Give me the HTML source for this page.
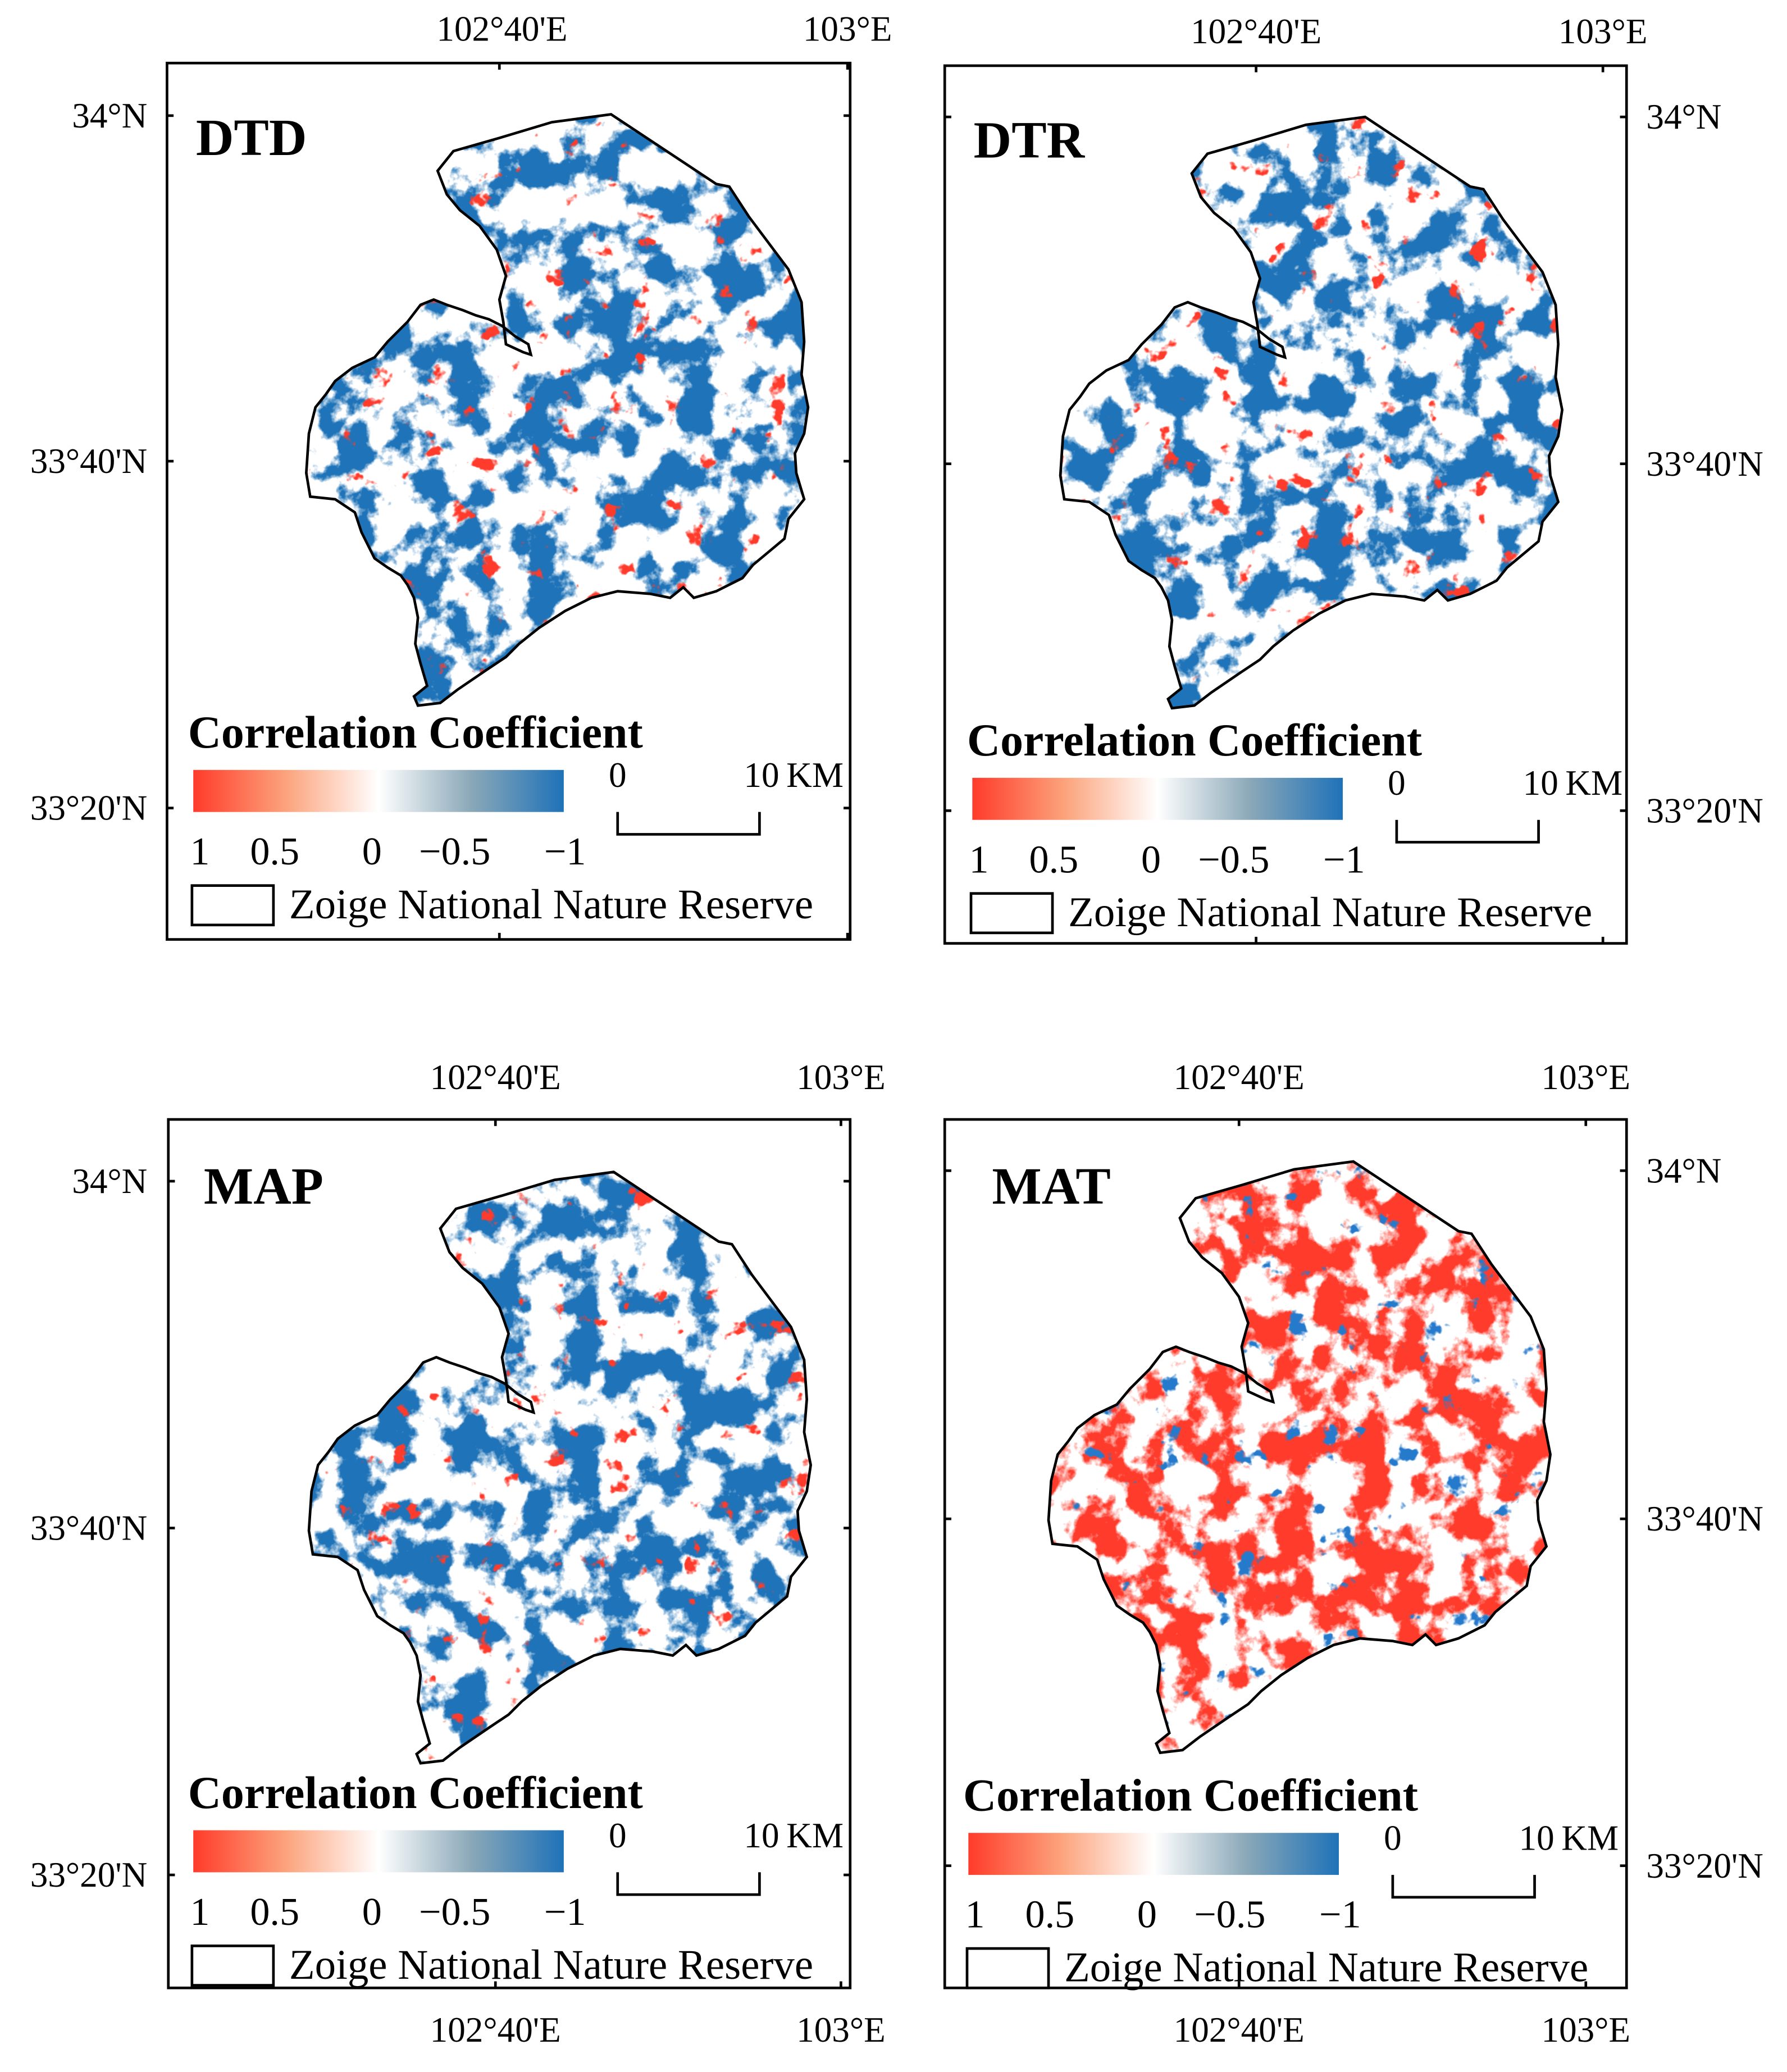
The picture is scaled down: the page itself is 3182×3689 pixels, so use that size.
<!DOCTYPE html>
<html><head><meta charset="utf-8"><style>
html,body{margin:0;padding:0;background:#fff;}
svg{display:block;}
text{font-family:"Liberation Serif",serif;fill:#000;}
</style></head><body>
<svg id="fig" xmlns="http://www.w3.org/2000/svg" width="3182" height="3689" viewBox="0 0 1360 1577">
<defs>
<linearGradient id="cbar" x1="0" x2="1" y1="0" y2="0">
<stop offset="0" stop-color="#ff3b2a"/><stop offset="0.25" stop-color="#fca37c"/><stop offset="0.5" stop-color="#ffffff"/><stop offset="0.75" stop-color="#8aa8b8"/><stop offset="1" stop-color="#1f72b8"/>
</linearGradient>
<filter id="fBlue" color-interpolation-filters="sRGB" filterUnits="userSpaceOnUse" x="0" y="0" width="1360" height="1577"><feTurbulence type="fractalNoise" baseFrequency="0.035" numOctaves="5" seed="4"/><feColorMatrix type="matrix" values="0 0 0 0 0.12  0 0 0 0 0.45  0 0 0 0 0.72  10 0 0 0 -4.75"/></filter>
<filter id="fRedS" color-interpolation-filters="sRGB" filterUnits="userSpaceOnUse" x="0" y="0" width="1360" height="1577"><feTurbulence type="fractalNoise" baseFrequency="0.05" numOctaves="4" seed="11"/><feColorMatrix type="matrix" values="0 0 0 0 1  0 0 0 0 0.23  0 0 0 0 0.17  14 0 0 0 -9.8"/></filter>
<filter id="fRed" color-interpolation-filters="sRGB" filterUnits="userSpaceOnUse" x="0" y="0" width="1360" height="1577"><feTurbulence type="fractalNoise" baseFrequency="0.035" numOctaves="5" seed="4"/><feColorMatrix type="matrix" values="0 0 0 0 1  0 0 0 0 0.23  0 0 0 0 0.17  10 0 0 0 -4.6"/></filter>
<filter id="fBlueS" color-interpolation-filters="sRGB" filterUnits="userSpaceOnUse" x="0" y="0" width="1360" height="1577"><feTurbulence type="fractalNoise" baseFrequency="0.05" numOctaves="4" seed="11"/><feColorMatrix type="matrix" values="0 0 0 0 0.15  0 0 0 0 0.48  0 0 0 0 0.8  14 0 0 0 -9.8"/></filter>
</defs>
</svg>
<script>
const NS="http://www.w3.org/2000/svg";
const svg=document.getElementById('fig');
const panelNames=["DTD","DTR","MAP","MAT"];
const xTickLabels=["102°40'E","103°E"];
const yTickLabels=["34°N","33°40'N","33°20'N"];
const legendTicks=["1","0.5","0","\u22120.5","\u22121"];
const shape=[[333,130],[345,115],[380,105],[420,93],[465,87],[545,140],[555,142],[570,165],[600,205],[610,230],[612,260],[610,285],[615,310],[612,330],[605,345],[606,360],[612,380],[600,395],[597,410],[585,420],[573,430],[565,440],[545,450],[528,455],[520,447],[510,455],[495,452],[470,450],[450,455],[430,465],[410,478],[395,490],[385,500],[370,510],[348,525],[335,535],[318,537],[315,530],[325,522],[320,505],[316,490],[318,470],[315,455],[310,445],[305,438],[295,432],[285,425],[275,405],[270,390],[255,380],[236,378],[233,360],[235,330],[240,310],[248,300],[255,290],[268,280],[285,272],[295,260],[310,245],[320,232],[330,228],[340,232],[352,236],[362,240],[372,243],[382,248],[392,256],[402,262],[404,270],[398,268],[385,262],[383,245],[380,228],[385,210],[378,190],[365,172],[350,160],[340,148]];
const panels=[
 {name:0,fx:127,fy:48,fw:520,fh:667,dx:0,dy:0,xt:[380,645],yt:[88,351,615],ylab:"left",xlabTop:[382,645],labTopY:31,bottom:false,cbx:147,cby:586,mode:"blue"},
 {name:1,fx:719,fy:50,fw:519,fh:668,dx:574,dy:2,xt:[956,1220],yt:[89,353,617],ylab:"right",xlabTop:[956,1220],labTopY:33,bottom:false,cbx:740,cby:592,mode:"blue"},
 {name:2,fx:128,fy:852,fw:519,fh:661,dx:2,dy:805,xt:[377,640],yt:[899,1163,1427],ylab:"left",xlabTop:[377,640],labTopY:829,bottom:true,cbx:147,cby:1393,mode:"blue"},
 {name:3,fx:719,fy:852,fw:519,fh:661,dx:565,dy:797,xt:[943,1207],yt:[891,1156,1420],ylab:"right",xlabTop:[943,1207],labTopY:829,bottom:true,cbx:737,cby:1395,mode:"red"}
];
function el(tag,attrs,parent){const e=document.createElementNS(NS,tag);for(const k in attrs)e.setAttribute(k,attrs[k]);(parent||svg).appendChild(e);return e;}
const defs=svg.querySelector('defs');
panels.forEach((p,i)=>{
 const g=el('g',{});
 
 
 const pts=shape.map(q=>(q[0]+p.dx)+','+(q[1]+p.dy)).join(' ');
 const cp=el('clipPath',{id:'clip'+i},defs);
 el('polygon',{points:pts},cp);
 const mg=el('g',{'clip-path':'url(#clip'+i+')'},g);
 
 
 el('rect',{x:p.fx,y:p.fy,width:p.fw,height:p.fh,fill:'#fff'},mg);
 el('rect',{x:p.fx,y:p.fy,width:p.fw,height:p.fh,fill:'#000',filter:p.mode==='blue'?'url(#fBlue)':'url(#fRed)'},mg);
 el('rect',{x:p.fx,y:p.fy,width:p.fw,height:p.fh,fill:'#000',filter:p.mode==='blue'?'url(#fRedS)':'url(#fBlueS)'},mg);
 const ol=el('polygon',{points:pts,fill:'none',stroke:'#000','stroke-width':2},g);
 
 
 const fr=el('rect',{x:p.fx,y:p.fy,width:p.fw,height:p.fh,fill:'none',stroke:'#000','stroke-width':2},g);
 
 
 p.xt.forEach((x,j)=>{
  el('line',{x1:x,x2:x,y1:p.fy,y2:p.fy+5,stroke:'#000','stroke-width':2},g);
  el('line',{x1:x,x2:x,y1:p.fy+p.fh,y2:p.fy+p.fh-5,stroke:'#000','stroke-width':2},g);
  const t=el('text',{x:p.xlabTop[j],y:p.labTopY,'text-anchor':'middle','font-size':27},g);
  t.textContent=xTickLabels[j];
  
  
  if(p.bottom){const b=el('text',{x:p.xlabTop[j],y:1554,'text-anchor':'middle','font-size':27},g);b.textContent=xTickLabels[j];
   
   }
 });
 p.yt.forEach((y,j)=>{
  el('line',{x1:p.fx,x2:p.fx+5,y1:y,y2:y,stroke:'#000','stroke-width':2},g);
  el('line',{x1:p.fx+p.fw,x2:p.fx+p.fw-5,y1:y,y2:y,stroke:'#000','stroke-width':2},g);
  const t=p.ylab==='left'?el('text',{x:112,y:y+9,'text-anchor':'end','font-size':27},g):el('text',{x:1253,y:y+9,'text-anchor':'start','font-size':27},g);
  t.textContent=yTickLabels[j];
  
  
 });
 const tt=el('text',{x:p.fx+22,y:p.fy+70,'font-size':40,'font-weight':'bold'},g);
 if(p.name>=2) tt.setAttribute('x',p.fx+(p.name===2?27:36));
 if(p.name>=2) tt.setAttribute('y',p.fy+64);
 tt.textContent=panelNames[p.name];
 
 
 const cx=p.cbx,cy=p.cby;
 const ct=el('text',{x:cx-4,y:cy-17,'font-size':35,'font-weight':'bold'},g);
 ct.textContent="Correlation Coefficient";
 
 
 const cb=el('rect',{x:cx,y:cy,width:282,height:32,fill:'url(#cbar)'},g);
 
 
 const offs=[5,62,136,199,283];
 legendTicks.forEach((s,j)=>{const t=el('text',{x:cx+offs[j],y:cy+72,'text-anchor':'middle','font-size':30},g);t.textContent=s;
  
  });
 const s0=el('text',{x:cx+323,y:cy+13,'text-anchor':'middle','font-size':27},g);s0.textContent="0";
 
 
 const s1=el('text',{x:cx+457,y:cy+13,'text-anchor':'middle','font-size':27},g);s1.textContent="10\u2009KM";
 
 
 const sb=el('polyline',{points:`${cx+323},${cy+32} ${cx+323},${cy+49} ${cx+431},${cy+49} ${cx+431},${cy+32}`,fill:'none',stroke:'#000','stroke-width':2},g);
 
 
 const lb=el('rect',{x:cx-1,y:cy+88,width:62,height:30,fill:'#fff',stroke:'#000','stroke-width':2},g);
 
 
 const lt=el('text',{x:cx+73,y:cy+113,'font-size':32},g);lt.textContent="Zoige National Nature Reserve";
 
 
});
</script>
</body></html>
